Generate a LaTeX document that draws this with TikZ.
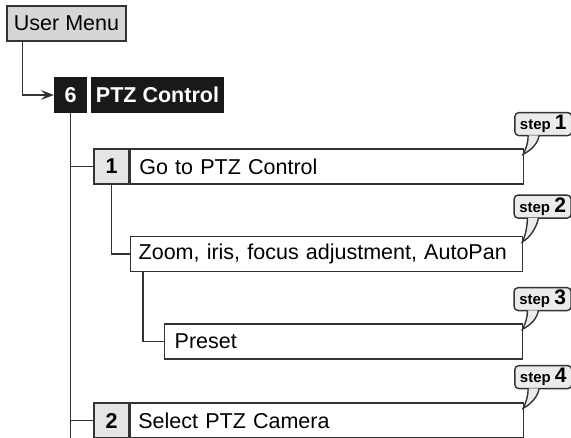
\documentclass[tikz,border=0pt]{standalone}
\usepackage{fontspec}
\setmainfont{Liberation Sans}
\usetikzlibrary{arrows.meta}

\tikzset{
    line/.style={draw=black!80, line width=1.4pt},
    bigfont/.style={font=\fontsize{21.5}{24}\selectfont},
    menubox/.style={line, bigfont, fill=black!16, minimum width=119pt, minimum height=35pt, inner sep=0pt},
    headbox/.style={fill=black!90, text=white, minimum height=36pt, inner sep=0pt, font=\bfseries\fontsize{21.5}{24}\selectfont},
    numbox/.style={line, fill=black!10, minimum width=35pt, minimum height=35pt, inner sep=0pt, font=\bfseries\fontsize{21.5}{24}\selectfont},
    itembox/.style={line, bigfont, fill=white, minimum height=35pt, inner ysep=0pt, anchor=west, align=left},
    stepbox/.style={line, fill=black!8, rounded corners=4pt, minimum width=57pt, minimum height=23pt, inner sep=0pt, anchor=south west},
}

\begin{document}
\begin{tikzpicture}[x=1pt, y=-1pt]

        \useasboundingbox (0,0) rectangle (571,437);
        \clip (0,0) rectangle (571,437);

        % menu head
        \node[menubox] (usermenu) at (66.5, 23.5) {User Menu};
        \node[headbox, minimum width=33pt] (num6) at (70.5, 95) {6};
        \node[headbox, minimum width=133pt] (ptz) at (157.5, 95) {PTZ Control};

        % items
        \node[numbox] (n1) at (111.5, 166.5) {1};
        \node[itembox, inner xsep=9pt, text width=375pt] (t1) at (n1.east) {Go to PTZ Control};

        \node[itembox, inner xsep=8pt, text width=376pt] (t2) at (130, 254) {Zoom, iris, focus adjustment, AutoPan};

        \node[itembox, inner xsep=10pt, text width=338pt] (t3) at (164, 341.5) {Preset};

        \node[numbox] (n2) at (111.5, 420.5) {2};
        \node[itembox, inner xsep=8pt, text width=377pt] (t4) at (n2.east) {Select PTZ Camera};

        % connectors
        \coordinate (um) at ([xshift=16pt]usermenu.south west);
        \coordinate (bottom) at (71, 445);
        \coordinate (t2a) at ([xshift=13pt]t2.south west);

        \draw[line, -{Stealth[length=13pt, width=10pt, inset=5pt]}] (um) |- (num6.west);
        \draw[line] (num6.south) -- (num6.south |- bottom);
        \draw[line] (num6.south |- n1.west) -- (n1.west);
        \draw[line] (n1.south) |- (t2.west);
        \draw[line] (t2a) |- (t3.west);
        \draw[line] (num6.south |- n2.west) -- (n2.west);

        % step callouts
        \foreach \n/\b/\gap in {1/t1/12, 2/t2/17, 3/t3/12, 4/t4/13} {
            \node[stepbox] (s\n) at ([xshift=-10pt, yshift=\gap pt]\b.north east)
                {\bfseries\fontsize{15}{17}\selectfont step \fontsize{21}{22}\selectfont\n};
            \coordinate (a\n) at ([shift={(14,-1)}]s\n.south west);
            \coordinate (b\n) at ([shift={(25,-1)}]s\n.south west);
            \coordinate (tip\n) at ([shift={(-1,6)}]\b.north east);
            \fill[black!8] (a\n) .. controls +(0,8) and +(3,-6) .. (tip\n) .. controls +(8,-4) and +(-1,8) .. (b\n) -- cycle;
            \draw[line] (a\n) .. controls +(0,8) and +(3,-6) .. (tip\n) .. controls +(8,-4) and +(-1,8) .. (b\n);
        }

\end{tikzpicture}
\end{document}
